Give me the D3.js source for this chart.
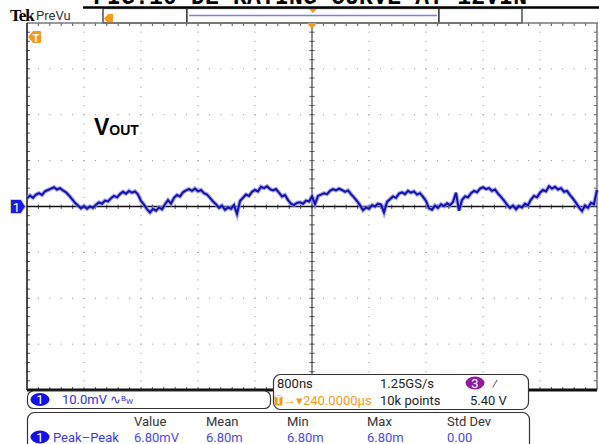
<!DOCTYPE html>
<html>
<head>
<meta charset="utf-8">
<script src="https://cdn.jsdelivr.net/npm/d3@7"></script>
<style>
  body { margin: 0; background: #fff; }
  svg { display: block; }
  .ui { font-family: "Liberation Sans Narrow", Roboto, "Liberation Sans", sans-serif; font-size: 13px; }
</style>
</head>
<body>
<svg id="scope" width="599" height="444"></svg>
<script>
// channel 1 trace, mV, sampled evenly over the 10 divisions (800ns/div)
var vout = [
  1.8, 2.4, 1.9, 2.6, 2.9, 2.5, 3.3, 3.6, 3.9, 4.2,
  3.7, 4.0, 3.5, 3.1, 2.4, 1.6, 0.8, 0.2, -0.4, 0.1,
  -0.5, 0.0, -0.3, 0.4, 0.9, 0.6, 1.3, 1.1, 1.8, 2.3,
  2.0, 2.7, 3.2, 2.8, 3.4, 3.0, 3.3, 2.6, 1.2, 0.4,
  -0.6, -1.3, -0.5, -0.9, -0.2, -0.6, 0.5, 1.4, 0.6, 1.9,
  2.5, 2.2, 3.1, 3.5, 3.8, 3.4, 3.9, 3.3, 3.6, 2.9,
  2.6, 1.9, 1.1, 0.5, -0.3, 0.2, -0.7, -0.2, -0.5, 0.3,
  -1.6, 1.2, 1.9, 2.6, 2.3, 3.2, 3.6, 3.3, 4.3, 4.0,
  4.4, 3.8, 3.5, 3.8, 3.0, 2.2, 2.5, 1.4, 0.6, 0.3,
  0.8, 0.9, 0.6, 1.3, 1.1, 2.2, 0.5, 2.3, 2.6, 2.9,
  2.7, 3.4, 3.8, 3.5, 3.9, 3.6, 3.2, 3.5, 2.7, 2.0,
  1.2, 0.3, -0.8, -0.2, -0.5, 0.3, 0.0, 0.6, 0.4, -1.3,
  1.0, 1.6, 2.2, 1.9, 2.8, 3.1, 2.7, 3.4, 3.0, 3.3,
  2.6, 2.9, 2.1, 1.2, -0.4, -0.7, 0.2, -0.3, 0.5, 0.1,
  0.7, 0.3, 1.0, 3.0, -0.9, 1.4, 2.2, 2.0, 2.9, 3.4,
  3.1, 3.9, 4.2, 3.8, 4.0, 3.4, 3.7, 2.8, 2.1, 1.3,
  0.4, -0.3, 0.2, -0.6, 0.1, -0.2, 0.6, 0.3, 1.5, 2.3,
  2.0, 3.0, 3.6, 3.3, 4.4, 3.9, 4.3, 3.7, 4.0, 3.2,
  3.4, 2.5, 1.7, 0.8, -0.2, -1.0, 0.2, -0.3, 0.8, 0.5,
  3.6
];
var timeSpan = [-4, 4];          // µs, 800ns/div x 10 div, trigger at centre
var voltSpan = [-40, 40];        // mV, 10.0mV/div x 8 div

var measHeaders = ["Value", "Mean", "Min", "Max", "Std Dev"];
var measValues = ["6.80mV", "6.80m", "6.80m", "6.80m", "0.00"];

var svg = d3.select("#scope");
var x = d3.scaleLinear().domain(timeSpan).range([27, 597]);
var y = d3.scaleLinear().domain(voltSpan).range([390, 23]);
var dt = (timeSpan[1] - timeSpan[0]) / (vout.length - 1);

var divX = (x.range()[1] - x.range()[0]) / 10,
    divY = (y.range()[0] - y.range()[1]) / 8;
var x0 = x.range()[0], x1 = x.range()[1], yTop = y.range()[1], yBot = y.range()[0];
var xc = x(0), yc = y(0);

// title strip (cut off at the top of the capture)
svg.append("text")
  .attr("x", 93).attr("y", 4)
  .attr("textLength", 434)
  .style("font-family", "'Liberation Mono', 'DejaVu Sans Mono', monospace")
  .style("font-weight", "bold").style("font-size", "23px")
  .text("FIG.10 DE-RATING CURVE AT 12VIN");
svg.append("line").attr("x1", 83).attr("x2", 599).attr("y1", 7.5).attr("y2", 7.5)
  .attr("stroke", "#000").attr("stroke-width", 2.5);

// header bar
svg.append("text").attr("x", 10).attr("y", 21)
  .style("font-family", "'Liberation Serif', serif").style("font-weight", "bold")
  .style("font-size", "17px").style("letter-spacing", "-1px").text("Tek");
svg.append("text").attr("class", "ui").attr("x", 36).attr("y", 20)
  .style("font-size", "13px").attr("fill", "#333").text("PreVu");

[[103, 187], [187, 439], [439, 522]].forEach(function(b) {
  svg.append("rect").attr("x", b[0]).attr("y", 8.5).attr("width", b[1] - b[0]).attr("height", 14.5)
    .attr("fill", "#fff").attr("stroke", "#222").attr("stroke-width", 1.2);
});
svg.append("line").attr("x1", 189).attr("x2", 437).attr("y1", 15.5).attr("y2", 15.5)
  .attr("stroke", "#7c7cf0").attr("stroke-width", 1.6);
svg.append("path").attr("d", "M309,9 L317,9 L313,13 Z").attr("fill", "#f39a1e");
svg.append("path").attr("d", "M104,18.5 L108,14 L113,14 L113,23 L108,23 Z").attr("fill", "#f39a1e");

// graticule dots
var grid = svg.append("g").attr("fill", "#8c8c8c");
d3.range(1, 10).forEach(function(k) {
  if (k === 5) return;
  d3.range(1, 40).forEach(function(m) {
    grid.append("rect").attr("x", x0 + k * divX - 0.5).attr("y", yTop + m * divY / 5 - 0.5)
      .attr("width", 1).attr("height", 1);
  });
});
d3.range(1, 8).forEach(function(k) {
  if (k === 4) return;
  d3.range(1, 50).forEach(function(m) {
    grid.append("rect").attr("x", x0 + m * divX / 5 - 0.5).attr("y", yTop + k * divY - 0.5)
      .attr("width", 1).attr("height", 1);
  });
});

// minor ticks on the centre lines and the border
var ticks = svg.append("g").attr("stroke", "#555").attr("stroke-width", 1);
d3.range(1, 50).forEach(function(m) {
  var xx = x0 + m * divX / 5;
  ticks.append("line").attr("x1", xx).attr("x2", xx).attr("y1", yc - 2).attr("y2", yc + 2.5);
  ticks.append("line").attr("x1", xx).attr("x2", xx).attr("y1", yTop).attr("y2", yTop + 3);
  ticks.append("line").attr("x1", xx).attr("x2", xx).attr("y1", yBot - 3).attr("y2", yBot);
});
d3.range(1, 40).forEach(function(m) {
  var yy = yTop + m * divY / 5;
  ticks.append("line").attr("x1", xc - 2.5).attr("x2", xc + 2.5).attr("y1", yy).attr("y2", yy);
  ticks.append("line").attr("x1", x0).attr("x2", x0 + 3).attr("y1", yy).attr("y2", yy);
  ticks.append("line").attr("x1", x1 - 3).attr("x2", x1).attr("y1", yy).attr("y2", yy);
});

// borders and centre lines
svg.append("line").attr("x1", x0).attr("x2", x1 + 1).attr("y1", yTop).attr("y2", yTop)
  .attr("stroke", "#777").attr("stroke-width", 1.5);
svg.append("line").attr("x1", x1).attr("x2", x1).attr("y1", yTop).attr("y2", yBot)
  .attr("stroke", "#777").attr("stroke-width", 1.5);
svg.append("line").attr("x1", x0).attr("x2", x0).attr("y1", yTop).attr("y2", yBot)
  .attr("stroke", "#111").attr("stroke-width", 1.5);
svg.append("line").attr("x1", xc).attr("x2", xc).attr("y1", yTop).attr("y2", yBot)
  .attr("stroke", "#444").attr("stroke-width", 1.2);
svg.append("line").attr("x1", x0).attr("x2", x1).attr("y1", yBot).attr("y2", yBot)
  .attr("stroke", "#111").attr("stroke-width", 3);
svg.append("line").attr("x1", x0).attr("x2", x1).attr("y1", yc).attr("y2", yc)
  .attr("stroke", "#111").attr("stroke-width", 1.3);

// waveform (persistence halo + core)
var line = d3.line()
  .x(function(d, i) { return x(timeSpan[0] + i * dt); })
  .y(function(d) { return y(d); });
svg.append("path").datum(vout).attr("d", line)
  .attr("fill", "none").attr("stroke", "#8a8af0").attr("stroke-width", 4.2)
  .attr("stroke-linejoin", "miter").attr("opacity", 0.75);
svg.append("path").datum(vout).attr("d", line)
  .attr("fill", "none").attr("stroke", "#1212a8").attr("stroke-width", 2)
  .attr("stroke-linejoin", "miter");

// trigger position marker
svg.append("path").attr("d", "M" + (xc - 5) + "," + yTop + " L" + (xc + 5) + "," + yTop + " L" + xc + "," + (yTop + 6) + " Z")
  .attr("fill", "#f39a1e");

// T marker, channel 1 ground marker
svg.append("path").attr("d", "M28,37 L33,31 L40,31 Q41,31 41,32 L41,42 Q41,43 40,43 L33,43 Z")
  .attr("fill", "#f39a1e");
svg.append("text").attr("class", "ui").attr("x", 36).attr("y", 41.5).attr("text-anchor", "middle")
  .attr("fill", "#fff").style("font-weight", "bold").style("font-size", "11px").text("T");
svg.append("path").attr("d", "M10.5,199.5 L21,199.5 L25.5,206.5 L21,213.5 L10.5,213.5 Z")
  .attr("fill", "#1a1aee").attr("stroke", "#d8d49a").attr("stroke-width", 1);
svg.append("text").attr("class", "ui").attr("x", 16.5).attr("y", 211.5).attr("text-anchor", "middle")
  .attr("fill", "#fff").style("font-size", "13px").text("1");

// V_OUT label
var vl = svg.append("text").attr("x", 94).attr("y", 135)
  .style("font-family", "'Liberation Sans', Arial, sans-serif").style("font-weight", "bold");
vl.append("tspan").style("font-size", "23px").text("V");
vl.append("tspan").style("font-size", "14px").text("OUT");

// bottom readouts
function chan(cx, cy, label, fill) {
  svg.append("ellipse").attr("cx", cx).attr("cy", cy).attr("rx", 9.5).attr("ry", 6.5).attr("fill", fill);
  svg.append("text").attr("class", "ui").attr("x", cx).attr("y", cy + 4.5).attr("text-anchor", "middle")
    .attr("fill", "#fff").style("font-size", "13px").text(label);
}

svg.append("rect").attr("x", 27.5).attr("y", 391).attr("width", 243).attr("height", 17.5).attr("rx", 6)
  .attr("fill", "#fff").attr("stroke", "#333").attr("stroke-width", 1.2);
chan(40, 399.5, "1", "#1212e6");
svg.append("text").attr("class", "ui").attr("x", 62).attr("y", 404).attr("fill", "#3030e0").text("10.0mV");
var bw = svg.append("text").attr("class", "ui").attr("x", 110).attr("y", 404).attr("fill", "#3030e0");
bw.append("tspan").style("font-size", "13px").text("∿");
bw.append("tspan").attr("dy", -3).style("font-size", "8px").text("B");
bw.append("tspan").attr("dy", 3).style("font-size", "8px").text("W");

svg.append("rect").attr("x", 273.5).attr("y", 374.5).attr("width", 255).attr("height", 35).attr("rx", 7)
  .attr("fill", "#fff").attr("stroke", "#333").attr("stroke-width", 1.2);
svg.append("text").attr("class", "ui").attr("x", 277).attr("y", 388).attr("fill", "#222").text("800ns");
svg.append("text").attr("class", "ui").attr("x", 380).attr("y", 388).attr("fill", "#222").text("1.25GS/s");
chan(475, 383, "3", "#8e1c9e");
svg.append("text").attr("class", "ui").attr("x", 492).attr("y", 388).attr("fill", "#222").text("⁄");
svg.append("rect").attr("x", 274.5).attr("y", 395.5).attr("width", 8).attr("height", 10).attr("rx", 1.5).attr("fill", "#f39a1e");
svg.append("text").attr("class", "ui").attr("x", 278.5).attr("y", 404).attr("text-anchor", "middle")
  .attr("fill", "#fff").style("font-size", "10px").style("font-weight", "bold").text("T");
svg.append("text").attr("class", "ui").attr("x", 283).attr("y", 405).attr("fill", "#f39a1e").text("→▾240.0000µs");
svg.append("text").attr("class", "ui").attr("x", 380).attr("y", 405).attr("fill", "#222").text("10k points");
svg.append("text").attr("class", "ui").attr("x", 470).attr("y", 405).attr("fill", "#222").text("5.40 V");

svg.append("rect").attr("x", 27.5).attr("y", 412.5).attr("width", 502).attr("height", 45).attr("rx", 7)
  .attr("fill", "#fff").attr("stroke", "#333").attr("stroke-width", 1.2);
var colX = [134, 206, 287, 367, 447];
measHeaders.forEach(function(h, i) {
  svg.append("text").attr("class", "ui").attr("x", colX[i]).attr("y", 426).attr("fill", "#333").text(h);
});
chan(40, 437, "1", "#1212e6");
svg.append("text").attr("class", "ui").attr("x", 53).attr("y", 442).attr("fill", "#3a3ae6").text("Peak–Peak");
measValues.forEach(function(v, i) {
  svg.append("text").attr("class", "ui").attr("x", colX[i]).attr("y", 442).attr("fill", "#4a4aee").text(v);
});
</script>
</body>
</html>
